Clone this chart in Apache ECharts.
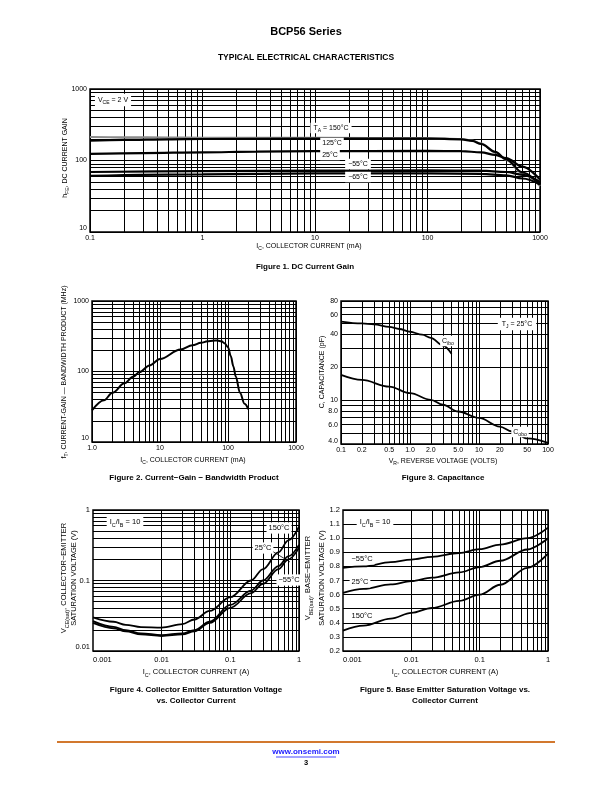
<!DOCTYPE html>
<html><head><meta charset="utf-8">
<script src="https://cdn.jsdelivr.net/npm/echarts@6/dist/echarts.min.js"></script>
<style>html,body{margin:0;padding:0;background:#fff}#c{width:612px;height:792px}</style>
</head><body><div id="c"></div>
<script>
// ---------------- DATA ----------------
// Figure 1: DC current gain hFE vs IC (mA)
const fig1Ta150 = [[0.1,213],[0.2,211],[0.5,209],[1,208],[10,207],[100,206],[200,200],[250,190],[300,172],[400,130],[500,102],[700,66],[1000,44]];
const fig1Ta125 = [[0.1,190],[0.2,194],[0.5,198],[1,200],[10,202],[100,203],[200,198],[250,188],[300,170],[400,132],[500,104],[700,68],[1000,46]];
const fig1Ta25  = [[0.1,124],[0.3,127],[1,130],[3,133],[10,135],[100,136],[200,135],[300,130],[400,120],[500,108],[700,82],[1000,54]];
const fig1TaM55 = [[0.1,69],[1,71],[10,72],[100,73],[300,72],[500,69],[700,63],[1000,50]];
const fig1TaM65 = [[0.1,61],[1,64],[10,66],[100,66],[300,65],[500,62],[700,56],[1000,46]];
const fig1XTicks = [0.1,1,10,100,1000];
const fig1XTickLabels = ['0.1','1','10','100','1000'];
const fig1YTicks = [10,100,1000];
const fig1YTickLabels = ['10','100','1000'];

// Figure 2: fT vs IC (mA)
const fig2Ft = [[1,28],[1.5,39],[2,50],[3,68],[4,84],[5,98],[7,122],[10,150],[20,205],[30,235],[40,255],[50,268],[60,274],[70,275],[80,268],[90,250],[100,220],[110,165],[120,118],[130,85],[150,50],[175,35],[200,29]];
const fig2XTicks = [1,10,100,1000];
const fig2XTickLabels = ['1.0','10','100','1000'];
const fig2YTicks = [10,100,1000];
const fig2YTickLabels = ['10','100','1000'];

// Figure 3: Capacitance vs VR
const fig3Cibo = [[0.1,52],[0.2,50],[0.3,49],[0.5,46.5],[0.7,44.5],[1,42],[1.5,39.5],[2,37],[3,31.5],[4,26.5]];
const fig3Cobo = [[0.1,17],[0.2,15.3],[0.5,13.3],[1,11.6],[2,10.1],[3,9.1],[5,7.9],[10,6.9],[20,5.75],[30,5.2],[50,4.5],[100,4.1]];
const fig3XTicks = [0.1,0.2,0.5,1,2,5,10,20,50,100];
const fig3XTickLabels = ['0.1','0.2','0.5','1.0','2.0','5.0','10','20','50','100'];
const fig3YTicks = [4,6,8,10,20,40,60,80];
const fig3YTickLabels = ['4.0','6.0','8.0','10','20','40','60','80'];

// Figure 4: VCE(sat) vs IC (A)
const fig4T150 = [[0.001,0.030],[0.002,0.026],[0.003,0.0235],[0.005,0.0218],[0.01,0.0215],[0.02,0.024],[0.03,0.028],[0.05,0.037],[0.1,0.058],[0.2,0.10],[0.3,0.145],[0.5,0.25],[0.7,0.37],[1,0.58]];
const fig4T25  = [[0.001,0.0265],[0.002,0.022],[0.003,0.0197],[0.005,0.0178],[0.01,0.0168],[0.02,0.0178],[0.03,0.0198],[0.05,0.026],[0.1,0.045],[0.2,0.072],[0.3,0.1],[0.5,0.16],[0.7,0.22],[1,0.32]];
const fig4TM55 = [[0.001,0.025],[0.002,0.021],[0.003,0.019],[0.005,0.0172],[0.01,0.0163],[0.02,0.0172],[0.03,0.019],[0.05,0.025],[0.1,0.041],[0.2,0.066],[0.3,0.09],[0.5,0.145],[0.7,0.2],[1,0.29]];
const fig4XTicks = [0.001,0.01,0.1,1];
const fig4XTickLabels = ['0.001','0.01','0.1','1'];
const fig4YTicks = [0.01,0.1,1];
const fig4YTickLabels = ['0.01','0.1','1'];

// Figure 5: VBE(sat) vs IC (A)
const fig5TM55 = [[0.001,0.79],[0.002,0.80],[0.005,0.83],[0.01,0.848],[0.02,0.868],[0.05,0.895],[0.1,0.922],[0.2,0.955],[0.5,1.0],[1,1.075]];
const fig5T25  = [[0.001,0.612],[0.002,0.64],[0.005,0.672],[0.01,0.695],[0.02,0.72],[0.05,0.757],[0.1,0.795],[0.2,0.84],[0.5,0.92],[1,1.0]];
const fig5T150 = [[0.001,0.345],[0.002,0.38],[0.005,0.43],[0.01,0.47],[0.02,0.505],[0.05,0.555],[0.1,0.60],[0.2,0.67],[0.5,0.79],[1,0.89]];
const fig5XTicks = [0.001,0.01,0.1,1];
const fig5XTickLabels = ['0.001','0.01','0.1','1'];
const fig5YTicks = [0.2,0.3,0.4,0.5,0.6,0.7,0.8,0.9,1.0,1.1,1.2];
const fig5YTickLabels = ['0.2','0.3','0.4','0.5','0.6','0.7','0.8','0.9','1.0','1.1','1.2'];

// ---------------- STYLE / HELPERS ----------------
const NARROW = "'Liberation Sans Narrow','Liberation Sans',Arial,sans-serif";
const SANS = "'Liberation Sans',Arial,sans-serif";

function logLines(min, max) {
  const out = [];
  let d = Math.pow(10, Math.floor(Math.log10(min) + 1e-9));
  while (d <= max * 1.0001) {
    for (let k = 1; k < 10; k++) {
      const v = +(k * d).toPrecision(6);
      if (v >= min * 0.9999 && v <= max * 1.0001) out.push(v);
    }
    d *= 10;
  }
  return out;
}
function linLines(min, max, step) {
  const out = [];
  const n = Math.round((max - min) / step);
  for (let i = 0; i <= n; i++) out.push(+(min + i * step).toFixed(6));
  return out;
}
function inside(v, min, max) {
  if (v <= min * (1 + 1e-9)) return min * (1 + 1e-6);
  if (v >= max * (1 - 1e-9)) return max * (1 - 1e-6);
  return v;
}
function marks(dim, range, lines, ticks, labels, font, size, extra) {
  const res = [];
  const used = new Set();
  const mk = (v, lab) => {
    const item = {}; item[dim] = inside(v, range[0], range[1]);
    item.label = lab == null ? {show: false} : Object.assign({show: true, formatter: lab, position: 'start', color: '#000',
      fontFamily: font, fontSize: size, distance: 3}, extra ? extra(v) : {});
    return item;
  };
  lines.forEach(v => {
    const idx = ticks ? ticks.findIndex(t => Math.abs(t - v) / Math.abs(t) < 1e-6) : -1;
    if (idx >= 0) used.add(idx);
    res.push(mk(v, idx >= 0 ? labels[idx] : null));
  });
  if (ticks) ticks.forEach((t, i) => { if (!used.has(i)) res.push(mk(t, labels[i])); });
  return res;
}
function gridSeries(idx, xMarks, yMarks) {
  return {
    type: 'line', xAxisIndex: idx, yAxisIndex: idx, data: [], z: 1, silent: true,
    markLine: {
      silent: true, symbol: ['none', 'none'], animation: false,
      lineStyle: {color: '#000', width: 1, type: 'solid', opacity: 1},
      emphasis: {disabled: true},
      data: xMarks.concat(yMarks)
    }
  };
}
function curve(idx, data, color, width) {
  return {
    type: 'line', xAxisIndex: idx, yAxisIndex: idx, data: data, z: 5,
    showSymbol: false, symbol: 'none', smooth: 0.35, smoothMonotone: 'x', silent: true,
    lineStyle: {color: color || '#000', width: width || 2}, clip: true
  };
}
function logAxis(idx, min, max) {
  return {type: 'log', logBase: 10, gridIndex: idx, min: min, max: max,
    axisLine: {show: false}, axisTick: {show: false}, axisLabel: {show: false}, splitLine: {show: false}};
}
// log axis whose own labels are shown (used where ticks fall on the decades)
function logAxisLabeled(idx, min, max, ticks, labels, font, size) {
  const ax = logAxis(idx, min, max);
  ax.axisLabel = {
    show: true, color: '#000', fontFamily: font, fontSize: size, margin: 5,
    showMinLabel: true, showMaxLabel: true, alignMinLabel: 'left',
    formatter: v => {
      const i = ticks.findIndex(t => Math.abs(t - v) / Math.abs(t) < 1e-4);
      return i >= 0 ? labels[i] : '';
    }
  };
  return ax;
}
function valAxis(idx, min, max) {
  return {type: 'value', gridIndex: idx, min: min, max: max, interval: 0.1,
    axisLine: {show: false}, axisTick: {show: false}, axisLabel: {show: false}, splitLine: {show: false}};
}
function rich(parts, size, family, weight) {
  const text = parts.map(p => '{' + (p[1] ? 's' : 'n') + '|' + p[0] + '}').join('');
  return {
    text: text,
    rich: {
      n: {fontSize: size, fontFamily: family, fontWeight: weight || 'normal', fill: '#000', lineHeight: size * 1.5},
      s: {fontSize: size * 0.72, fontFamily: family, fontWeight: weight || 'normal', fill: '#000', lineHeight: size * 0.8, verticalAlign: 'bottom'}
    }
  };
}
function txt(x, y, parts, size, family, opts) {
  opts = opts || {};
  const st = rich(parts, size, family, opts.weight);
  st.align = 'center'; st.verticalAlign = 'middle';
  if (opts.bg) { st.backgroundColor = '#fff'; st.padding = opts.pad || [0, 2, 0, 2]; }
  return {type: 'text', x: x, y: y, rotation: opts.rot ? Math.PI / 2 : 0, z: 100, silent: true, style: st};
}
function plain(x, y, s, size, family, weight, color) {
  return {type: 'text', x: x, y: y, z: 100, silent: true,
    style: {text: s, fontSize: size, fontFamily: family, fontWeight: weight || 'normal', fill: color || '#000', align: 'center', verticalAlign: 'middle'}};
}

// ---------------- LAYOUT ----------------
const grids = [
  {left: 90, top: 89, width: 450, height: 143},
  {left: 92, top: 301, width: 204, height: 141},
  {left: 341, top: 301, width: 207, height: 143},
  {left: 93, top: 510, width: 206, height: 141},
  {left: 343, top: 510, width: 205, height: 141}
].map(g => Object.assign({show: true, borderColor: '#000', borderWidth: 1.5, backgroundColor: 'transparent'}, g));

const upAtBottom = (bottom, dy) => v => (Math.abs(v - bottom) / bottom < 1e-6 ? {offset: [0, dy]} : {});

const series = [
  gridSeries(0,
    marks('xAxis', [0.1, 1000], logLines(0.1, 1000), fig1XTicks, fig1XTickLabels, NARROW, 7),
    marks('yAxis', [10, 1000], logLines(10, 1000), fig1YTicks, fig1YTickLabels, NARROW, 7, upAtBottom(10, -4))),
  curve(0, fig1Ta150, '#8c8c8c', 2.2),
  curve(0, fig1Ta125, '#000', 2.2),
  curve(0, fig1Ta25, '#000', 2.2),
  curve(0, fig1TaM55, '#000', 2.2),
  curve(0, fig1TaM65, '#000', 2.2),

  gridSeries(1,
    marks('xAxis', [1, 1000], logLines(1, 1000), fig2XTicks, fig2XTickLabels, NARROW, 7),
    marks('yAxis', [10, 1000], logLines(10, 1000), fig2YTicks, fig2YTickLabels, NARROW, 7, upAtBottom(10, -4))),
  curve(1, fig2Ft, '#000', 2),

  gridSeries(2,
    marks('xAxis', [0.1, 100], logLines(0.1, 100), fig3XTicks, fig3XTickLabels, NARROW, 7),
    marks('yAxis', [4, 80], logLines(4, 80), fig3YTicks, fig3YTickLabels, NARROW, 7, upAtBottom(4, -3))),
  curve(2, fig3Cibo, '#000', 1.8),
  curve(2, fig3Cobo, '#000', 1.8),

  gridSeries(3,
    marks('xAxis', [0.001, 1], logLines(0.001, 1), null, null, SANS, 7.5),
    marks('yAxis', [0.01, 1], logLines(0.01, 1), fig4YTicks, fig4YTickLabels, SANS, 7.5, upAtBottom(0.01, -4))),
  curve(3, fig4T150, '#000', 1.8),
  curve(3, fig4T25, '#000', 1.8),
  curve(3, fig4TM55, '#000', 1.8),

  gridSeries(4,
    marks('xAxis', [0.001, 1], logLines(0.001, 1), null, null, SANS, 7.5),
    marks('yAxis', [0.2, 1.2], linLines(0.2, 1.2, 0.1), fig5YTicks, fig5YTickLabels, SANS, 7.5)),
  curve(4, fig5TM55, '#000', 1.8),
  curve(4, fig5T25, '#000', 1.8),
  curve(4, fig5T150, '#000', 1.8)
];

const graphics = [
  plain(306, 32, 'BCP56 Series', 11, SANS, 'bold'),
  plain(306, 58, 'TYPICAL ELECTRICAL CHARACTERISTICS', 8.5, SANS, 'bold'),

  // Fig 1
  txt(309, 246, [['I', 0], ['C', 1], [', COLLECTOR CURRENT (mA)', 0]], 7, NARROW),
  plain(305, 267, 'Figure 1. DC Current Gain', 8, SANS, 'bold'),
  txt(65, 158, [['h', 0], ['FE', 1], [', DC CURRENT GAIN', 0]], 7, NARROW, {rot: true}),
  txt(113, 100, [['V', 0], ['CE', 1], [' = 2 V', 0]], 7, NARROW, {bg: true, pad: [1, 3, 1, 3]}),
  txt(331, 128, [['T', 0], ['A', 1], [' = 150°C', 0]], 7, NARROW, {bg: true, pad: [0, 3, 0, 3]}),
  txt(332, 143, [['125°C', 0]], 7, NARROW, {bg: true}),
  txt(330, 155, [['25°C', 0]], 7, NARROW, {bg: true}),
  txt(358, 164, [['−55°C', 0]], 7, NARROW, {bg: true, pad: [0, 3, 0, 3]}),
  txt(358, 177, [['−65°C', 0]], 7, NARROW, {bg: true, pad: [0, 3, 0, 3]}),

  // Fig 2
  txt(193, 460, [['I', 0], ['C', 1], [', COLLECTOR CURRENT (mA)', 0]], 7, NARROW),
  plain(194, 478, 'Figure 2. Current−Gain − Bandwidth Product', 8, SANS, 'bold'),
  txt(64, 372, [['f', 0], ['T', 1], [', CURRENT-GAIN — BANDWIDTH PRODUCT (MHz)', 0]], 7, NARROW, {rot: true}),

  // Fig 3
  txt(443, 461, [['V', 0], ['R', 1], [', REVERSE VOLTAGE (VOLTS)', 0]], 7, NARROW),
  plain(443, 478, 'Figure 3. Capacitance', 8, SANS, 'bold'),
  txt(322, 372, [['C, CAPACITANCE (pF)', 0]], 7, NARROW, {rot: true}),
  txt(517, 324, [['T', 0], ['J', 1], [' = 25°C', 0]], 7, NARROW, {bg: true, pad: [1, 4, 1, 4]}),
  txt(448, 341, [['C', 0], ['ibo', 1]], 7, NARROW, {bg: true}),
  txt(520, 432, [['C', 0], ['obo', 1]], 7, NARROW, {bg: true}),

  // Fig 4
  txt(196, 672, [['I', 0], ['C', 1], [', COLLECTOR CURRENT (A)', 0]], 7.5, SANS),
  plain(196, 690, 'Figure 4. Collector Emitter Saturation Voltage', 8, SANS, 'bold'),
  plain(196, 701, 'vs. Collector Current', 8, SANS, 'bold'),
  txt(64, 578, [['V', 0], ['CE(sat)', 1], [', COLLECTOR−EMITTER', 0]], 7.5, SANS, {rot: true}),
  txt(74, 578, [['SATURATION VOLTAGE (V)', 0]], 7.5, SANS, {rot: true}),
  txt(125, 522, [['I', 0], ['C', 1], ['/I', 0], ['B', 1], [' = 10', 0]], 7.5, SANS, {bg: true, pad: [1, 3, 1, 3]}),
  txt(279, 528, [['150°C', 0]], 7.5, SANS, {bg: true}),
  txt(263, 548, [['25°C', 0]], 7.5, SANS, {bg: true}),
  txt(289, 580, [['−55°C', 0]], 7.5, SANS, {bg: true}),
  {type: 'line', z: 99, silent: true, shape: {x1: 272, y1: 551, x2: 290, y2: 562}, style: {stroke: '#000', lineWidth: 0.8}},

  // Fig 5
  txt(445, 672, [['I', 0], ['C', 1], [', COLLECTOR CURRENT (A)', 0]], 7.5, SANS),
  plain(445, 690, 'Figure 5. Base Emitter Saturation Voltage vs.', 8, SANS, 'bold'),
  plain(445, 701, 'Collector Current', 8, SANS, 'bold'),
  txt(308, 578, [['V', 0], ['BE(sat)', 1], [', BASE−EMITTER', 0]], 7.5, SANS, {rot: true}),
  txt(322, 578, [['SATURATION VOLTAGE (V)', 0]], 7.5, SANS, {rot: true}),
  txt(375, 522, [['I', 0], ['C', 1], ['/I', 0], ['B', 1], [' = 10', 0]], 7.5, SANS, {bg: true, pad: [1, 3, 1, 3]}),
  txt(362, 559, [['−55°C', 0]], 7.5, SANS, {bg: true}),
  txt(360, 582, [['25°C', 0]], 7.5, SANS, {bg: true}),
  txt(362, 616, [['150°C', 0]], 7.5, SANS, {bg: true}),

  // footer
  {type: 'line', silent: true, shape: {x1: 57, y1: 742, x2: 555, y2: 742}, style: {stroke: '#d2782e', lineWidth: 2}},
  plain(306, 752, 'www.onsemi.com', 8, SANS, 'bold', '#1a1aff'),
  {type: 'line', silent: true, shape: {x1: 276, y1: 757, x2: 336, y2: 757}, style: {stroke: '#1a1aff', lineWidth: 0.8}},
  plain(306, 763, '3', 7.5, SANS, 'bold')
];

const chart = echarts.init(document.getElementById('c'), null, {renderer: 'canvas'});
chart.setOption({
  animation: false,
  backgroundColor: '#fff',
  grid: grids,
  xAxis: [
    logAxis(0, 0.1, 1000), logAxis(1, 1, 1000), logAxis(2, 0.1, 100),
    logAxisLabeled(3, 0.001, 1, fig4XTicks, fig4XTickLabels, SANS, 7.5),
    logAxisLabeled(4, 0.001, 1, fig5XTicks, fig5XTickLabels, SANS, 7.5)
  ],
  yAxis: [logAxis(0, 10, 1000), logAxis(1, 10, 1000), logAxis(2, 4, 80), logAxis(3, 0.01, 1), valAxis(4, 0.2, 1.2)],
  series: series,
  graphic: {elements: graphics}
});
</script>
</body></html>
